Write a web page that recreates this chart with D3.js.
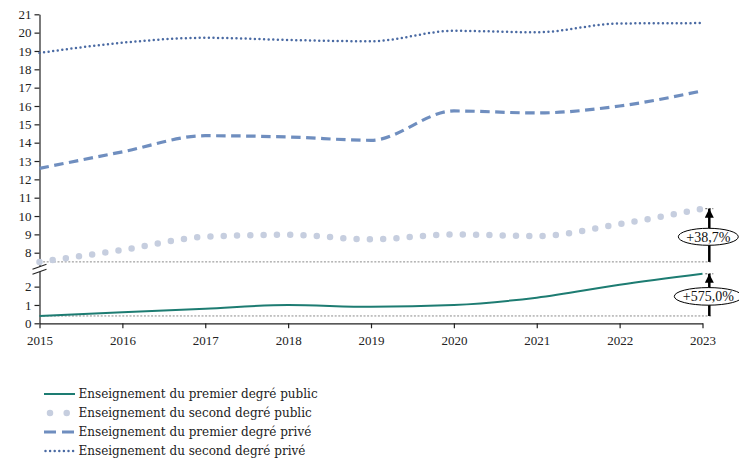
<!DOCTYPE html>
<html>
<head>
<meta charset="utf-8">
<script src="https://cdn.jsdelivr.net/npm/d3@7/dist/d3.min.js"></script>
<style>
  body { margin: 0; background: #fff; }
  svg { display: block; }
  .axis text { font-family: "Liberation Serif", serif; font-size: 13px; fill: #222; }
  .axis path, .axis line { stroke: #222; stroke-width: 1.2px; }
  .legend text { font-family: "DejaVu Serif", serif; font-size: 12px; fill: #222; }
  .label text { font-family: "Liberation Serif", serif; font-size: 14px; fill: #111; }
</style>
</head>
<body>
<svg width="739" height="463"></svg>
<script>
// donnees
var years = [2015, 2016, 2017, 2018, 2019, 2020, 2021, 2022, 2023];
var premierPublic = [0.4, 0.6, 0.8, 1.0, 0.9, 1.0, 1.4, 2.1, 2.7];
var secondPublic  = [7.5, 8.15, 8.87, 8.98, 8.73, 9.0, 8.91, 9.56, 10.4];
var premierPrive  = [12.6, 13.5, 14.38, 14.31, 14.13, 15.73, 15.62, 16.0, 16.83];
var secondPrive   = [18.89, 19.45, 19.72, 19.6, 19.53, 20.1, 20.02, 20.5, 20.52];
var topTicks = [8, 9, 10, 11, 12, 13, 14, 15, 16, 17, 18, 19, 20, 21];
var bottomTicks = [0, 1, 2];
var legendLabels = [
  "Enseignement du premier degré public",
  "Enseignement du second degré public",
  "Enseignement du premier degré privé",
  "Enseignement du second degré privé"
];

var svg = d3.select("svg"),
    margin = {top: 14.3, left: 39.5},
    width = 663,
    height = 309;

var g = svg.append("g")
    .attr("transform", "translate(" + margin.left + "," + margin.top + ")");

// axe y coupe en deux morceaux
var breakY = 254;
var x = d3.scaleLinear().domain([2015, 2023]).range([0, width]),
    yTop = d3.scaleLinear().domain([7.15, 21]).range([breakY, 0]),
    yBot = d3.scaleLinear().domain([0, 3]).range([height, breakY]);

var series = [
  {name: legendLabels[0], values: premierPublic, y: yBot, color: "#1d7c72", width: 2, dash: null, cap: "butt"},
  {name: legendLabels[1], values: secondPublic, y: yTop, color: "#c6cedf", width: 6.5, dash: "0,13.3", cap: "round"},
  {name: legendLabels[2], values: premierPrive, y: yTop, color: "#6f8ebf", width: 3.2, dash: "9.5,5.5", cap: "butt"},
  {name: legendLabels[3], values: secondPrive, y: yTop, color: "#4a6aa3", width: 2.5, dash: "0,4.6", cap: "round"}
];

// axes
g.append("g")
    .attr("class", "axis")
    .attr("transform", "translate(0," + height + ")")
    .call(d3.axisBottom(x).tickValues(years).tickFormat(d3.format("d")).tickSize(5).tickSizeOuter(0))
    .selectAll("text").attr("dy", "1.05em");

g.append("g")
    .attr("class", "axis")
    .call(d3.axisLeft(yTop).tickValues(topTicks).tickFormat(d3.format("d")).tickSize(5).tickSizeOuter(0));

g.append("g")
    .attr("class", "axis")
    .call(d3.axisLeft(yBot).tickValues(bottomTicks).tickFormat(d3.format("d")).tickSize(5).tickSizeOuter(0));

// symbole de coupure
var brk = g.append("g").attr("transform", "translate(0," + breakY + ")");
brk.append("polygon")
    .attr("points", "-7,1 7,-4 7,1 -7,6")
    .attr("fill", "#fff");
brk.append("line").attr("x1", -7).attr("y1", 1).attr("x2", 7).attr("y2", -4)
    .attr("stroke", "#222").attr("stroke-width", 1.2);
brk.append("line").attr("x1", -7).attr("y1", 6).attr("x2", 7).attr("y2", 1)
    .attr("stroke", "#222").attr("stroke-width", 1.2);

// lignes de reference (valeur 2015)
var arrowX = x(2023) + 6.8;
[{y: yTop, v: secondPublic}, {y: yBot, v: premierPublic}].forEach(function(r) {
  g.append("line")
      .attr("x1", 0).attr("x2", arrowX + 3)
      .attr("y1", r.y(r.v[0])).attr("y2", r.y(r.v[0]))
      .attr("stroke", "#8a8a8a").attr("stroke-width", 1)
      .attr("stroke-dasharray", "2,1.6");
});

// courbes
series.forEach(function(s) {
  var line = d3.line()
      .x(function(d, i) { return x(years[i]); })
      .y(function(d) { return s.y(d); })
      .curve(d3.curveMonotoneX);
  g.append("path")
      .datum(s.values)
      .attr("fill", "none")
      .attr("stroke", s.color)
      .attr("stroke-width", s.width)
      .attr("stroke-linecap", s.cap)
      .attr("stroke-dasharray", s.dash)
      .attr("d", line);
});

// fleches + pourcentages
svg.append("defs").append("marker")
    .attr("id", "head")
    .attr("viewBox", "0 0 10 10")
    .attr("refX", 10).attr("refY", 5)
    .attr("markerWidth", 3.6).attr("markerHeight", 3.6)
    .attr("orient", "auto")
  .append("path")
    .attr("d", "M0,0 L10,5 L0,10 z")
    .attr("fill", "#000");

var fmt = d3.formatLocale({decimal: ",", thousands: " ", grouping: [3], currency: ["", " €"]}).format("+.1f");

[{y: yTop, v: secondPublic, rx: 30, ry: 8.5}, {y: yBot, v: premierPublic, rx: 34, ry: 8.8}].forEach(function(r) {
  var first = r.v[0], last = r.v[r.v.length - 1];
  var y0 = r.y(first), y1 = r.y(last);
  g.append("line")
      .attr("x1", arrowX - 4).attr("x2", arrowX + 4)
      .attr("y1", y1).attr("y2", y1)
      .attr("stroke", "#555").attr("stroke-width", 1)
      .attr("stroke-dasharray", "2,1.5");
  g.append("line")
      .attr("x1", arrowX).attr("x2", arrowX)
      .attr("y1", y0).attr("y2", y1)
      .attr("stroke", "#000").attr("stroke-width", 2.5)
      .attr("marker-end", "url(#head)");
  var lab = g.append("g").attr("class", "label")
      .attr("transform", "translate(" + (arrowX - 1) + "," + ((y0 + y1) / 2 + 1.5) + ")");
  lab.append("ellipse")
      .attr("rx", r.rx).attr("ry", r.ry)
      .attr("fill", "#fff").attr("stroke", "#000").attr("stroke-width", 1);
  lab.append("text")
      .attr("text-anchor", "middle")
      .attr("dy", "0.35em")
      .text(fmt((last / first - 1) * 100) + "%");
});

// legende
var legend = svg.append("g").attr("class", "legend")
    .attr("transform", "translate(44,394)");
var row = legend.selectAll("g")
    .data(series)
    .enter().append("g")
      .attr("transform", function(d, i) { return "translate(0," + (i * 19) + ")"; });
row.append("line")
    .attr("x1", function(d) { return d.cap === "round" ? (d.width > 4 ? 6 : 1.5) : 0; })
    .attr("x2", function(d) { return d.width > 4 ? 24 : 31; })
    .attr("stroke", function(d) { return d.color; })
    .attr("stroke-width", function(d) { return d.width; })
    .attr("stroke-linecap", function(d) { return d.cap; })
    .attr("stroke-dasharray", function(d) { return d.width > 4 ? "0,16.7" : (d.cap === "butt" && d.dash ? "12,6" : d.dash); });
row.append("text")
    .attr("x", 34.5)
    .attr("dy", "0.35em")
    .text(function(d) { return d.name; });
</script>
</body>
</html>
